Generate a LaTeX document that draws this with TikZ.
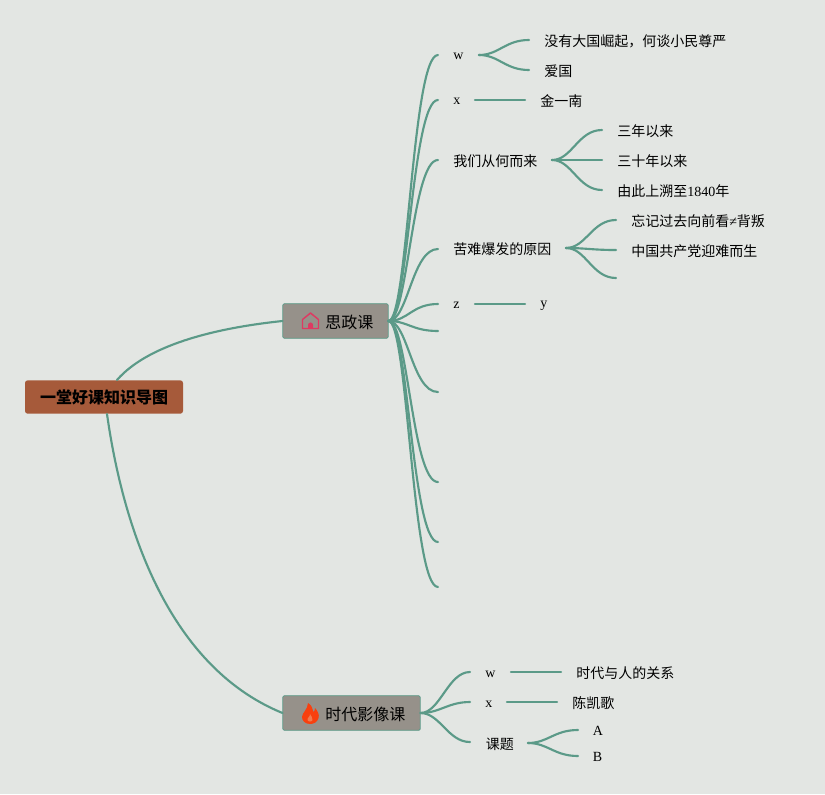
\documentclass[tikz,border=0pt]{standalone}
\usepackage{fontspec}
\usetikzlibrary{calc}
\setmainfont{Liberation Serif}
\newfontfamily\cjk{Noto Sans CJK SC}
\definecolor{bgc}{HTML}{E3E6E3}
\definecolor{linkc}{HTML}{5B9A88}
\definecolor{rootc}{HTML}{A65A3A}
\definecolor{subc}{HTML}{96918A}
\definecolor{housec}{HTML}{DE3A62}
\definecolor{flamec}{HTML}{F8400F}
\definecolor{flamein}{HTML}{F07A50}
\tikzset{
 lk/.style={draw=linkc,line width=1.6pt,line cap=round},
 lbl/.style={inner sep=0pt,anchor=west,text=black,font=\fontsize{10.5pt}{12pt}\selectfont},
 zh/.style={lbl,font=\fontsize{10.5pt}{12pt}\selectfont\cjk},
 subbox/.style={draw=linkc,line width=0.6pt,fill=subc,rounded corners=1pt,inner sep=0pt},
 rootbox/.style={fill=rootc,rounded corners=2pt,inner sep=0pt}
}
\newcommand{\fan}[2]{\draw[lk] (#1) .. controls ($(#1)+(20,0)$) and ($(#2)+(-24,0)$) .. (#2);}
\begin{document}
\begin{tikzpicture}[x=0.75pt,y=-0.75pt]
\useasboundingbox[fill=bgc] (0,0) rectangle (825,794);
% boxes
\node[rootbox,minimum width=118.5pt,minimum height=25pt] (root) at (104,397) {};
\node[font=\fontsize{12pt}{14pt}\selectfont\cjk\bfseries] (roott) at (104,397.5) {一堂好课知识导图};
\node[subbox,minimum width=79pt,minimum height=26pt] (s1) at (335.5,321) {};
\node[subbox,minimum width=103pt,minimum height=26pt] (s2) at (351.5,713) {};
\node[lbl,font=\fontsize{12pt}{14pt}\selectfont\cjk] (s1t) at (325,322) {思政课};
\node[lbl,font=\fontsize{12pt}{14pt}\selectfont\cjk] (s2t) at (325,714) {时代影像课};
% icons
\draw[draw=housec,line width=1.1pt,line join=round] (302.5,328.5) -- (302.5,319.5) -- (310.5,313) -- (318.5,319.5) -- (318.5,328.5) -- cycle;
\fill[housec] (308,328.5) -- (308,325) arc[start angle=180,end angle=0,radius=1.9pt] -- (313,328.5) -- cycle;
\fill[flamec] (308,703) .. controls (314,707) and (311.5,710) .. (313.5,712) .. controls (314.5,711) and (315,710) .. (315,708) .. controls (318,711) and (319.5,715) .. (318.5,718) .. controls (317.5,722) and (314,724) .. (310,724) .. controls (305,724) and (302,720.5) .. (302,717) .. controls (302,713) and (308,709) .. (308,703) -- cycle;
\fill[flamein] (310,714) .. controls (310.5,716) and (307,718) .. (307.5,720) .. controls (308,722) and (312,722) .. (312.5,720) .. controls (313,718) and (311,716) .. (310,714) -- cycle;
% root links
\coordinate (rtop) at (117,380);
\coordinate (rbot) at (107,414);
\coordinate (s1l) at (282.5,321);
\coordinate (s2l) at (282.5,713);
\coordinate (s1r) at (388.5,321);
\coordinate (s2r) at (420.5,713);
\draw[lk] (rtop) .. controls (150,342) and (225,327) .. (s1l);
\draw[lk] (rbot) .. controls (122,520) and (165,665) .. (s2l);
% level 1 of first subject
\foreach \n/\y in {a/55,b/100,c/160,d/249,e/304,f/331,g/392,h/482,i/542,j/587}{
 \coordinate (\n) at (438,\y);
 \draw[lk] (s1r) .. controls (408,321) and (412,\y) .. (\n);}
% level 1 of second subject
\foreach \n/\y in {p/672,q/702,r/742}{
 \coordinate (\n) at (470,\y);
 \draw[lk] (s2r) .. controls (440,713) and (448,\y) .. (\n);}
% deeper links
\coordinate (w0) at (479,55);
\coordinate (w1) at (529,40);
\coordinate (w2) at (529,70);
\fan{w0}{w1} \fan{w0}{w2}
\coordinate (x0) at (475,100);
\coordinate (x1) at (525,100);
\draw[lk] (x0) -- (x1);
\coordinate (c0) at (552,160);
\coordinate (c1) at (602,130);
\coordinate (c2) at (602,160);
\coordinate (c3) at (602,190);
\fan{c0}{c1} \fan{c0}{c2} \fan{c0}{c3}
\coordinate (d0) at (566,248);
\coordinate (d1) at (616,220);
\coordinate (d2) at (616,250);
\coordinate (d3) at (616,278);
\fan{d0}{d1} \fan{d0}{d2} \fan{d0}{d3}
\coordinate (z0) at (475,304);
\coordinate (z1) at (525,304);
\draw[lk] (z0) -- (z1);
\coordinate (p0) at (511,672);
\coordinate (p1) at (561,672);
\draw[lk] (p0) -- (p1);
\coordinate (q0) at (507,702);
\coordinate (q1) at (557,702);
\draw[lk] (q0) -- (q1);
\coordinate (r0) at (528,743);
\coordinate (r1) at (578,730);
\coordinate (r2) at (578,756);
\fan{r0}{r1} \fan{r0}{r2}
% labels
\node[lbl] (tw) at (453,56.5) {w};
\node[lbl] (tx) at (453,101.5) {x};
\node[zh] (tc) at (453,161) {我们从何而来};
\node[zh] (td) at (453,249.5) {苦难爆发的原因};
\node[lbl] (tz) at (453,305.5) {z};
\node[lbl] (ty) at (540,305.5) {y};
\node[zh] (tw1) at (544,41) {没有大国崛起，何谈小民尊严};
\node[zh] (tw2) at (544,71) {爱国};
\node[zh] (tx1) at (540,101) {金一南};
\node[zh] (tc1) at (617,131) {三年以来};
\node[zh] (tc2) at (617,161) {三十年以来};
\node[zh] (tc3) at (617,191) {由此上溯至{\fontspec{Liberation Serif}1840}年};
\node[zh] (td1) at (631,221) {忘记过去向前看{\fontspec{Liberation Serif}≠}背叛};
\node[zh] (td2) at (631,251) {中国共产党迎难而生};
\node[lbl] (tp) at (485,674) {w};
\node[lbl] (tq) at (485,704) {x};
\node[zh] (tr) at (485.5,744) {课题};
\node[zh] (tp1) at (576,673) {时代与人的关系};
\node[zh] (tq1) at (572,703) {陈凯歌};
\node[lbl] (tr1) at (592.5,731) {A};
\node[lbl] (tr2) at (592.5,757) {B};
\end{tikzpicture}
\end{document}
